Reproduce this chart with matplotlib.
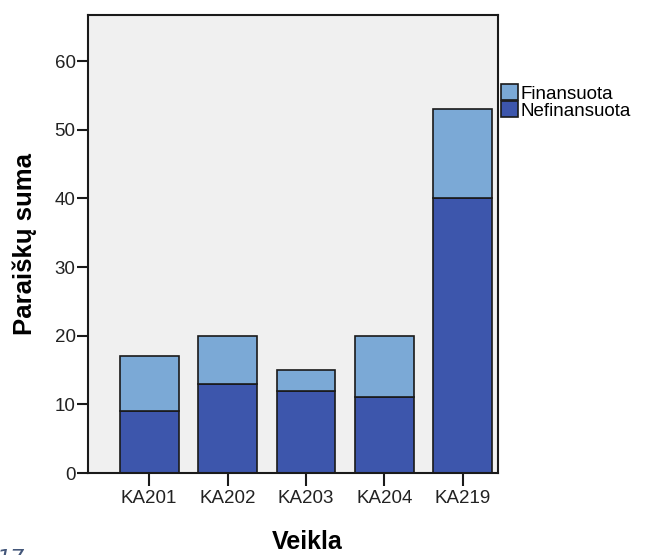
import matplotlib.pyplot as plt
import numpy as np

plt.rcParams['font.family'] = ['Liberation Sans', 'DejaVu Sans']

veiklos = ['KA201', 'KA202', 'KA203', 'KA204', 'KA219']
nefinansuota = [9, 13, 12, 11, 40]
finansuota = [8, 7, 3, 9, 13]

fig = plt.figure(figsize=(6.68, 5.55), dpi=100)
ax = fig.add_axes([88 / 668, 1 - 473 / 555, 410 / 668, 458 / 555])
ax.set_facecolor('#f0f0f0')

x = np.arange(len(veiklos))
ax.bar(x, nefinansuota, width=0.75, color='#3d56ac', edgecolor='#1a1a1a',
       linewidth=1.2, label='Nefinansuota', zorder=2)
ax.bar(x, finansuota, width=0.75, bottom=nefinansuota, color='#7ba9d6',
       edgecolor='#1a1a1a', linewidth=1.2, label='Finansuota', zorder=2)

ax.set_xlim(-0.78, 4.45)
ax.set_ylim(0, 66.7)
ax.set_yticks(range(0, 61, 10))
ax.set_xticks(x)
ax.set_xticklabels(veiklos)
ax.tick_params(axis='both', labelsize=13.5, color='#1a1a1a', width=1.5,
               labelcolor='#222222')
ax.tick_params(axis='y', length=8, pad=1)
ax.tick_params(axis='x', length=9, pad=3)
for s in ax.spines.values():
    s.set_linewidth(1.5)
    s.set_color('#1a1a1a')

ax.set_ylabel('Paraiškų suma', fontsize=18.5, fontweight='bold')
ax.yaxis.set_label_coords(-0.125, 0.5)
ax.set_xlabel('Veikla', fontsize=18, fontweight='bold')
ax.xaxis.set_label_coords(0.534, -0.125)

h, l = ax.get_legend_handles_labels()
ax.legend(h[::-1], l[::-1], loc='upper left', bbox_to_anchor=(1.0, 0.855),
          frameon=False, fontsize=13.5, handlelength=0.9, handleheight=0.95,
          handletextpad=0.15, labelspacing=-0.08, borderpad=0.1,
          borderaxespad=0.05)

fig.text(-0.004, 1 - 549 / 555, '17', fontsize=16, style='italic',
         color='#44577a', va='top', family='DejaVu Sans')

fig.savefig('out.png', dpi=100)
